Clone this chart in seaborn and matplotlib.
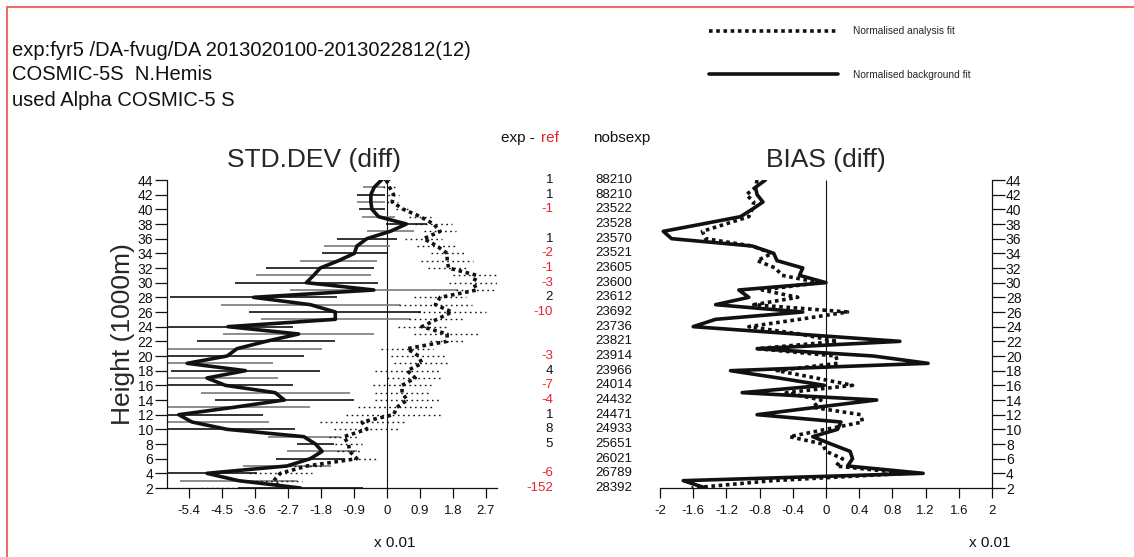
import matplotlib
matplotlib.use("Agg")
import matplotlib.pyplot as plt
import matplotlib.transforms as mtransforms
from matplotlib.patches import Rectangle
import seaborn as sns
import pandas as pd

# levels (1000 m), top to bottom
heights = [44, 43, 42, 41, 40, 39, 38, 37, 36, 35, 34, 33, 32, 31, 30, 29, 28, 27, 26, 25, 24, 23,
           22, 21, 20, 19, 18, 17, 16, 15, 14, 13, 12, 11, 10, 9, 8, 7, 6, 5, 4, 3, 2]

# STD.DEV (diff), x 0.01
std_bg = [-0.15, -0.35, -0.44, -0.44, -0.41, -0.23, 0.53, 0.09, -0.55, -0.82, -0.89, -1.32, -1.82,
          -2.0, -2.2, -0.36, -3.64, -2.09, -1.41, -1.41, -4.34, -2.41, -3.3, -4.09, -4.36, -5.45,
          -3.86, -4.91, -4.41, -3.05, -2.80, -4.18, -5.68, -5.32, -4.36, -2.27, -1.95, -1.77, -2.09,
          -2.73, -4.91, -4.05, -2.36]
std_bg_err = [0.0, 0.30, 0.39, 0.39, 0.36, 0.45, 0.56, 0.64, 0.82, 0.89, 0.89, 1.05, 1.47, 1.56,
              1.95, 2.29, 2.29, 2.45, 2.34, 2.03, 1.77, 2.06, 1.89, 2.32, 2.09, 2.35, 2.03, 1.93,
              1.85, 2.03, 1.89, 2.07, 2.30, 2.09, 1.86, 0.98, 0.50, 0.95, 0.95, 1.2, 1.36, 1.6, 1.7]
std_an = [-0.02, 0.07, 0.18, 0.14, 0.45, 0.91, 1.27, 1.45, 1.0, 1.36, 1.64, 1.64, 1.68, 2.45, 2.36,
          2.45, 1.45, 1.32, 1.77, 1.36, 0.95, 1.64, 1.64, 0.55, 0.86, 0.95, 0.55, 0.77, 0.41, 0.41,
          0.55, 0.27, 0.18, -0.68, -0.55, -1.18, -1.05, -1.02, -0.82, -2.18, -2.91, -3.09, -2.9]
std_an_err = [0.1, 0.18, 0.15, 0.15, 0.2, 0.3, 0.5, 0.43, 0.5, 0.55, 0.45, 0.7, 0.57, 0.66, 0.68,
              0.57, 0.7, 1.0, 0.93, 0.75, 0.66, 0.89, 0.48, 0.7, 0.75, 0.75, 0.89, 0.77, 0.8, 0.73,
              0.89, 1.05, 1.3, 1.14, 0.89, 0.39, 0.36, 0.34, 0.52, 0.5, 0.86, 0.77, 2.16]

# BIAS (diff), x 0.01
bias_bg = [-0.73, -0.85, -0.83, -0.76, -0.89, -1.03, -1.49, -1.96, -1.86, -0.89, -0.63, -0.59,
           -0.28, -0.32, 0.0, -1.05, -0.93, -1.33, -0.28, -1.33, -1.60, -0.36, 0.89, -0.83, 0.57,
           1.23, -1.15, -0.57, -0.02, -1.01, 0.61, -0.12, -0.83, 0.18, 0.14, -0.16, 0.06, 0.29,
           0.32, 0.26, 1.17, -1.72, -1.45]
bias_an = [-0.83, -0.85, -0.96, -0.87, -0.89, -0.93, -1.21, -1.49, -1.45, -0.89, -0.65, -0.83,
           -0.61, -0.53, -0.08, -0.77, -0.34, -0.87, 0.26, -0.32, -0.93, -0.32, 0.14, -0.83, 0.12,
           0.14, -0.59, -0.12, 0.32, -0.48, -0.06, -0.16, 0.42, 0.44, 0.0, -0.44, -0.04, 0.0, 0.2,
           0.12, 0.97, -0.65, -1.62]

# middle table (every 2 km)
table_heights = [44, 42, 40, 38, 36, 34, 32, 30, 28, 26, 24, 22, 20, 18, 16, 14, 12, 10, 8, 6, 4, 2]
exp_minus_ref = ["1", "1", "-1", "", "1", "-2", "-1", "-3", "2", "-10", "", "", "-3", "4", "-7",
                 "-4", "1", "8", "5", "", "-6", "-152"]
nobsexp = [88210, 88210, 23522, 23528, 23570, 23521, 23605, 23600, 23612, 23692, 23736, 23821,
           23914, 23966, 24014, 24432, 24471, 24933, 25651, 26021, 26789, 28392]

std_ticks = [-5.4, -4.5, -3.6, -2.7, -1.8, -0.9, 0, 0.9, 1.8, 2.7]
std_ticklabels = ["-5.4", "-4.5", "-3.6", "-2.7", "-1.8", "-0.9", "0", "0.9", "1.8", "2.7"]
bias_ticks = [-2, -1.6, -1.2, -0.8, -0.4, 0, 0.4, 0.8, 1.2, 1.6, 2]
bias_ticklabels = ["-2", "-1.6", "-1.2", "-0.8", "-0.4", "0", "0.4", "0.8", "1.2", "1.6", "2"]
height_ticks = [2, 4, 6, 8, 10, 12, 14, 16, 18, 20, 22, 24, 26, 28, 30, 32, 34, 36, 38, 40, 42, 44]

header = ["exp:fyr5 /DA-fvug/DA 2013020100-2013022812(12)", "COSMIC-5S  N.Hemis",
          "used Alpha COSMIC-5 S"]

sns.set_theme(style="ticks")
plt.rcParams['font.family'] = ['Liberation Sans', 'DejaVu Sans']
plt.rcParams['axes.unicode_minus'] = False

df = pd.DataFrame({"height": heights, "std_bg": std_bg, "std_bg_err": std_bg_err,
                   "std_an": std_an, "std_an_err": std_an_err,
                   "bias_bg": bias_bg, "bias_an": bias_an})

fig = plt.figure(figsize=(11.34, 5.57), dpi=100)
ax1 = fig.add_axes([167 / 1134, 1 - 488 / 557, 330 / 1134, 308 / 557])
ax2 = fig.add_axes([660 / 1134, 1 - 488 / 557, 332 / 1134, 308 / 557])

dark = "#111111"
bar_cols = [dark if h % 2 == 0 else "#7a7a7a" for h in heights]
ax1.hlines(df["height"], df["std_bg"] - df["std_bg_err"], df["std_bg"] + df["std_bg_err"],
           colors=bar_cols, linewidth=1.2, zorder=2)
ax1.hlines(df["height"], df["std_an"] - df["std_an_err"], df["std_an"] + df["std_an_err"],
           colors=dark, linewidth=1.0, linestyles=(0, (1.2, 2.5)), zorder=2)
ax1.vlines(0, 2, 44, color=dark, linewidth=0.8, zorder=1)
sns.lineplot(data=df, x="std_an", y="height", orient="y", sort=False, estimator=None, ax=ax1,
             color=dark, linewidth=2.6, linestyle=(0, (1, 1)), zorder=3)
sns.lineplot(data=df, x="std_bg", y="height", orient="y", sort=False, estimator=None, ax=ax1,
             color=dark, linewidth=2.6, zorder=4)

ax2.vlines(0, 2, 44, color=dark, linewidth=0.8, zorder=1)
sns.lineplot(data=df, x="bias_an", y="height", orient="y", sort=False, estimator=None, ax=ax2,
             color=dark, linewidth=2.6, linestyle=(0, (1, 1)), zorder=3,
             label="Normalised analysis fit")
sns.lineplot(data=df, x="bias_bg", y="height", orient="y", sort=False, estimator=None, ax=ax2,
             color=dark, linewidth=2.6, zorder=4, label="Normalised background fit")

for ax in (ax1, ax2):
    ax.set_ylim(2, 44)
    ax.set_yticks(height_ticks)
    ax.set_xlabel("")
    ax.set_ylabel("")
    ax.spines["top"].set_visible(False)
    for s in ax.spines.values():
        s.set_linewidth(0.9)
        s.set_color(dark)
    ax.tick_params(axis="x", direction="out", length=7, width=0.9, labelsize=9.5, pad=5,
                   colors=dark)
    ax.tick_params(axis="y", direction="out", length=9, width=0.9, labelsize=10, pad=1,
                   colors=dark)
    ax.patch.set_alpha(0)

ax1.set_xlim(-6, 3)
ax1.set_xticks(std_ticks, std_ticklabels)
ax1.spines["right"].set_visible(False)
ax1.set_ylabel("Height (1000m)", fontsize=19, labelpad=2)
ax1.text(0.445, 1.025, "STD.DEV (diff)", transform=ax1.transAxes, ha="center", va="bottom",
         fontsize=19)

ax2.set_xlim(-2, 2)
ax2.set_xticks(bias_ticks, bias_ticklabels)
ax2.spines["left"].set_visible(False)
ax2.yaxis.tick_right()
ax2.text(0.5, 1.025, "BIAS (diff)", transform=ax2.transAxes, ha="center", va="bottom",
         fontsize=19)

handles, labels = ax2.get_legend_handles_labels()
ax2.get_legend().remove()
fig.legend(handles, labels, loc="upper left", bbox_to_anchor=(700 / 1134, 1 - 17 / 557),
           frameon=False, fontsize=7.3, handlelength=12.7, handletextpad=1.5, labelspacing=3.3)

# middle columns
trans = mtransforms.blended_transform_factory(fig.transFigure, ax1.transData)
for h, d, n in zip(table_heights, exp_minus_ref, nobsexp):
    col = "#e8202a" if d.startswith("-") else dark
    fig.text(553 / 1134, h, d, transform=trans, ha="right", va="center", fontsize=9.5, color=col)
    fig.text(632 / 1134, h, str(n), transform=trans, ha="right", va="center", fontsize=9.5,
             color=dark)

fig.text(539 / 1134, 1 - 138 / 557, "exp - ", ha="right", va="center", fontsize=11, color=dark)
fig.text(541 / 1134, 1 - 138 / 557, "ref", ha="left", va="center", fontsize=11, color="#e8202a")
fig.text(622 / 1134, 1 - 138 / 557, "nobsexp", ha="center", va="center", fontsize=11, color=dark)

for i, line in enumerate(header):
    fig.text(12 / 1134, 1 - (50 + 25 * i) / 557, line, ha="left", va="center", fontsize=14.5,
             color=dark)

fig.text(395 / 1134, 1 - 543 / 557, "x 0.01", ha="center", va="center", fontsize=11, color=dark)
fig.text(990 / 1134, 1 - 543 / 557, "x 0.01", ha="center", va="center", fontsize=11, color=dark)

fig.add_artist(Rectangle((7 / 1134, -0.2), 1.2, 1.2 - 7 / 557, transform=fig.transFigure,
                         fill=False, edgecolor="#f06a6a", linewidth=1.5))

fig.savefig("out.png", dpi=100)
